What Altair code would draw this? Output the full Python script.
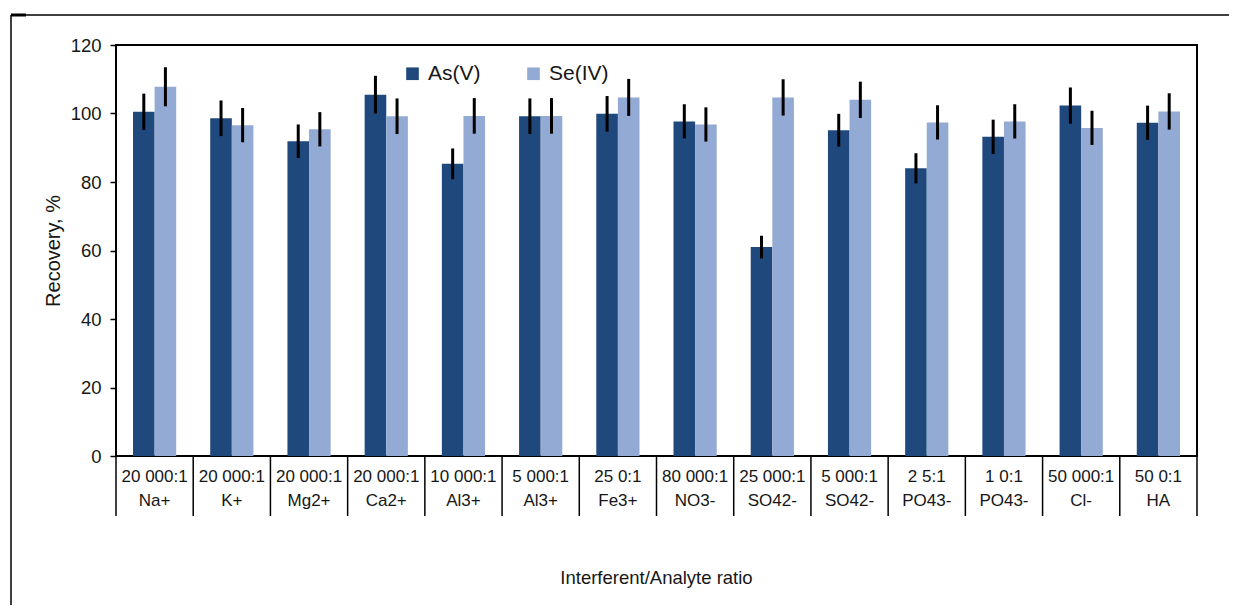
import altair as alt
import pandas as pd

ratios = ["20 000:1", "20 000:1", "20 000:1", "20 000:1", "10 000:1", "5 000:1", "25 0:1",
          "80 000:1", "25 000:1", "5 000:1", "2 5:1", "1 0:1", "50 000:1", "50 0:1"]
ions = ["Na+", "K+", "Mg2+", "Ca2+", "Al3+", "Al3+", "Fe3+",
        "NO3-", "SO42-", "SO42-", "PO43-", "PO43-", "Cl-", "HA"]
series_names = ["As(V)", "Se(IV)"]
as_values = [100.5, 98.6, 91.9, 105.5, 85.3, 99.2, 99.9, 97.7, 61.0, 95.1, 84.0, 93.2, 102.3, 97.3]
as_errors = [5.3, 5.2, 4.9, 5.5, 4.5, 5.2, 5.2, 5.0, 3.3, 4.8, 4.4, 5.0, 5.3, 5.0]
se_values = [107.8, 96.6, 95.4, 99.2, 99.3, 99.3, 104.7, 96.8, 104.7, 104.0, 97.4, 97.7, 95.8, 100.6]
se_errors = [5.7, 5.0, 5.0, 5.2, 5.2, 5.2, 5.4, 5.0, 5.3, 5.3, 5.0, 5.0, 5.0, 5.3]
y_ticks = [0, 20, 40, 60, 80, 100, 120]
colors = ["#1F487C", "#93AAD4"]

keys = [f"{i} {r}" for i, r in zip(ions, ratios)]
rows = []
for k, av, ae, sv, se in zip(keys, as_values, as_errors, se_values, se_errors):
    rows.append(dict(key=k, series=series_names[0], value=av, lo=av - ae, hi=av + ae))
    rows.append(dict(key=k, series=series_names[1], value=sv, lo=sv - se, hi=sv + se))
df = pd.DataFrame(rows)
cats = pd.DataFrame({"key": keys, "ratio": ratios, "ion": ions})
one = pd.DataFrame({"t": ["Interferent/Analyte ratio"]})

W, H = 1081, 411
FONT = "Liberation Sans"
TXT = "#161616"

xscale = alt.Scale(paddingInner=0, paddingOuter=0)
def xenc(bp=None):
    if bp is None:
        return alt.X("key:N", sort=keys, scale=xscale, axis=None)
    return alt.X("key:N", sort=keys, scale=xscale, axis=None, bandPosition=bp)

yaxis = alt.Axis(values=y_ticks, title="Recovery, %", grid=False, tickSize=6,
                 tickColor="black", tickWidth=1.5, domain=False,
                 labelFont=FONT, labelFontSize=18.5, labelColor=TXT, labelPadding=9,
                 titleFont=FONT, titleFontSize=20, titleFontWeight="normal",
                 titleColor=TXT, titlePadding=7)
yscale = alt.Scale(domain=[0, 120], nice=False)
xoff = alt.XOffset("series:N", sort=series_names,
                   scale=alt.Scale(paddingOuter=0.787, paddingInner=0))

bars = alt.Chart(df).mark_bar().encode(
    x=xenc(),
    xOffset=xoff,
    y=alt.Y("value:Q", scale=yscale, axis=yaxis),
    color=alt.Color("series:N", sort=series_names,
                    scale=alt.Scale(domain=series_names, range=colors),
                    legend=alt.Legend(title=None)),
)

err = alt.Chart(df).mark_rule(color="black", strokeWidth=3).encode(
    x=xenc(),
    xOffset=xoff,
    y=alt.Y("lo:Q", scale=yscale, axis=yaxis),
    y2="hi:Q",
)

seps = alt.Chart(cats).mark_rule(color="black", strokeWidth=1.5).encode(
    x=xenc(0), y=alt.value(H), y2=alt.value(H + 60)
)
sep_last = alt.Chart(cats.tail(1)).mark_rule(color="black", strokeWidth=1.5).encode(
    x=xenc(1), y=alt.value(H), y2=alt.value(H + 60)
)

row1 = alt.Chart(cats).mark_text(font=FONT, fontSize=17, color=TXT).encode(
    x=xenc(), y=alt.value(H + 21), text="ratio:N"
)
row2 = alt.Chart(cats).mark_text(font=FONT, fontSize=17, color=TXT).encode(
    x=xenc(), y=alt.value(H + 45), text="ion:N"
)
xtitle = alt.Chart(one).mark_text(font=FONT, fontSize=18.5, color=TXT).encode(
    x=alt.value(W / 2), y=alt.value(H + 122), text="t:N"
)

frame_top = alt.Chart(one).mark_rule(color="black", strokeWidth=1.5).encode(
    x=alt.value(-105), x2=alt.value(1113), y=alt.value(-30)
)
frame_corner = alt.Chart(one).mark_rule(color="black", strokeWidth=3).encode(
    x=alt.value(-105), x2=alt.value(-90), y=alt.value(-30)
)
frame_left = alt.Chart(one).mark_rule(color="black", strokeWidth=1.5).encode(
    x=alt.value(-105), y=alt.value(-30), y2=alt.value(560)
)

chart = alt.layer(bars, err, seps, sep_last, row1, row2, xtitle,
                  frame_top, frame_corner, frame_left).properties(
    width=W, height=H,
    padding={"left": 9, "top": 13, "right": 0, "bottom": 0},
).configure_view(
    stroke="black", strokeWidth=2
).configure_legend(
    orient="none", legendX=286, legendY=18, direction="horizontal",
    symbolType="square", symbolSize=160, symbolStrokeWidth=0,
    labelFont=FONT, labelFontSize=21, labelColor=TXT, columnPadding=42, labelOffset=5,
)

chart.save("out.html", embed_options={"renderer": "svg", "actions": False})
